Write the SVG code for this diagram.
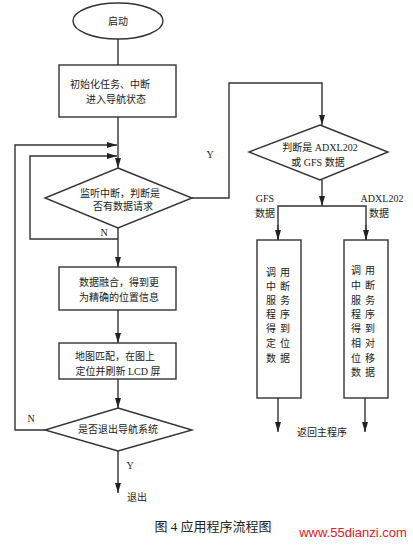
<svg xmlns="http://www.w3.org/2000/svg" width="413" height="545" viewBox="0 0 413 545">
<style>
.s{fill:#fff;stroke:#333;stroke-width:1.4}
.c{fill:none;stroke:#333;stroke-width:1.4}
text{font-family:"Liberation Serif","Noto Sans CJK SC",serif;font-size:10px;fill:#222;text-anchor:middle}
.l{text-anchor:start}
</style>
<defs>
<marker id="a" markerUnits="userSpaceOnUse" markerWidth="10" markerHeight="6" refX="10" refY="3" orient="auto">
<path d="M0,0 L10,3 L0,6 z" fill="#222"/>
</marker>
</defs>
<rect width="413" height="545" fill="#fff"/>
<g id="connectors">
<line class="c" x1="118" y1="39" x2="118" y2="65"/>
<line class="c" x1="118" y1="117" x2="118" y2="168" marker-end="url(#a)"/>
<polyline class="c" points="45,430 15,430 15,145 117,145" marker-end="url(#a)"/>
<polyline class="c" points="118,239 30,239 30,156 117,156" marker-end="url(#a)"/>
<line class="c" x1="118" y1="228" x2="118" y2="267" marker-end="url(#a)"/>
<line class="c" x1="118" y1="310" x2="118" y2="343" marker-end="url(#a)"/>
<line class="c" x1="118" y1="379" x2="118" y2="408" marker-end="url(#a)"/>
<line class="c" x1="118" y1="451" x2="118" y2="493" marker-end="url(#a)"/>
<polyline class="c" points="192,198 229,198 229,83 322,83 322,125" marker-end="url(#a)"/>
<line class="c" x1="322" y1="180" x2="322" y2="206" marker-end="url(#a)"/>
<polyline class="c" points="278,240 278,206 366,206 366,240"/>
<line class="c" x1="278" y1="225" x2="278" y2="240" marker-end="url(#a)"/>
<line class="c" x1="366" y1="225" x2="366" y2="240" marker-end="url(#a)"/>
<line class="c" x1="278" y1="398" x2="278" y2="432" marker-end="url(#a)"/>
<line class="c" x1="365" y1="398" x2="365" y2="432" marker-end="url(#a)"/>
<text x="104" y="236">N</text>
<text x="31" y="422">N</text>
<text x="130" y="469">Y</text>
<text x="210" y="158">Y</text>
<text x="265" y="202">GFS</text>
<text x="265" y="217">数据</text>
<text x="382" y="202">ADXL202</text>
<text x="379" y="217">数据</text>
<text class="l" x="127" y="501">退出</text>
<text x="322" y="436">返回主程序</text>
</g>
<g id="start">
<ellipse class="s" cx="118" cy="21" rx="45" ry="18"/>
<text x="118" y="25">启动</text>
</g>
<g id="init">
<rect class="s" x="59" y="65" width="117" height="52"/>
<text x="110" y="88">初始化任务、中断</text>
<text x="116" y="103">进入导航状态</text>
</g>
<g id="listen">
<polygon class="s" points="118,168 192,198 118,228 45,198"/>
<text x="120" y="197">监听中断，判断是</text>
<text x="123" y="210">否有数据请求</text>
</g>
<g id="fuse">
<rect class="s" x="59" y="267" width="117" height="43"/>
<text x="119" y="286">数据融合，得到更</text>
<text x="119" y="301">为精确的位置信息</text>
</g>
<g id="map">
<rect class="s" x="59" y="343" width="117" height="36"/>
<text x="115" y="360">地图匹配，在图上</text>
<text x="118" y="375">定位并刷新 LCD 屏</text>
</g>
<g id="exit">
<polygon class="s" points="118,408 192,430 118,451 45,430"/>
<text x="118" y="433">是否退出导航系统</text>
</g>
<g id="judge">
<polygon class="s" points="320,125 388,152 320,180 249,152"/>
<text x="320" y="151">判断是 ADXL202</text>
<text x="318" y="166">或 GFS 数据</text>
</g>
<g id="gfs">
<rect class="s" x="257" y="240" width="44" height="158"/>
<text x="271 271 271 271 271 271 271" y="276 290 304 318 332 347 362">调中服程得定数</text>
<text x="285 285 285 285 285 285 285" y="276 290 304 318 332 347 362">用断务序到位据</text>
</g>
<g id="adxl">
<rect class="s" x="344" y="240" width="44" height="158"/>
<text x="356 356 356 356 356 356 356 356" y="274 289 304 318 332 347 362 376">调中服程得相位数</text>
<text x="370 370 370 370 370 370 370 370" y="274 289 304 318 332 347 362 376">用断务序到对移据</text>
</g>
<text x="213" y="531" style="font-size:13px">图 4 应用程序流程图</text>
<text x="353" y="537" style="font-size:13px;fill:#e0201c;font-family:'Liberation Sans',sans-serif">www.55dianzi.com</text>
</svg>
